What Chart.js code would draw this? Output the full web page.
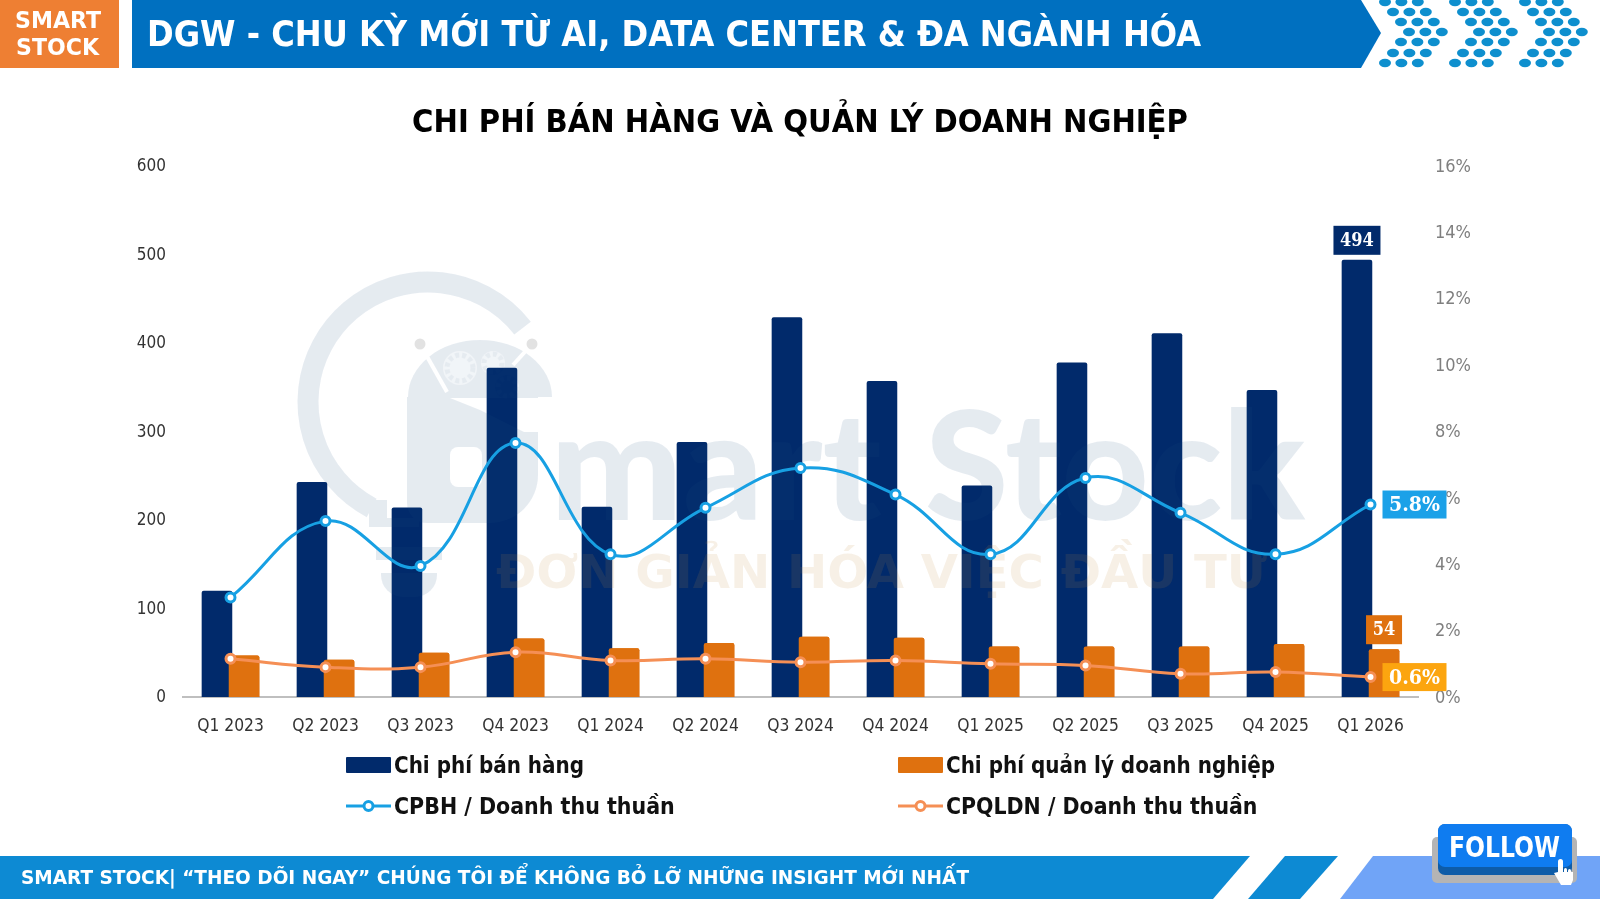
<!DOCTYPE html>
<html lang="vi">
<head>
<meta charset="utf-8">
<title>DGW - Chi phí bán hàng và quản lý doanh nghiệp</title>
<script src="https://cdn.jsdelivr.net/npm/chart.js@4/dist/chart.umd.min.js"></script>
<style>
    html, body { margin: 0; padding: 0; background: #ffffff; }
    canvas { display: block; }
</style>
</head>
<body>
<canvas id="chartCanvas" width="1600" height="899"></canvas>
<script>
// Quarterly data
const quarters = ["Q1 2023", "Q2 2023", "Q3 2023", "Q4 2023", "Q1 2024", "Q2 2024", "Q3 2024",
    "Q4 2024", "Q1 2025", "Q2 2025", "Q3 2025", "Q4 2025", "Q1 2026"];
const sellingCost = [120, 243, 214, 372, 215, 288, 429, 357, 239, 378, 411, 347, 494];
const adminCost = [47, 42, 50, 66, 55, 61, 68, 67, 57, 57, 57, 60, 54];
const sellingRatio = [3.0, 5.3, 3.95, 7.65, 4.3, 5.7, 6.9, 6.1, 4.3, 6.6, 5.55, 4.3, 5.8];
const adminRatio = [1.15, 0.9, 0.9, 1.35, 1.1, 1.15, 1.05, 1.1, 1.0, 0.95, 0.7, 0.75, 0.6];

const leftTicks = { max: 600, step: 100 };
const rightTicks = { max: 16, step: 2 };

// Slide texts
const brandLines = ["SMART", "STOCK"];
const bannerText = "DGW - CHU KỲ MỚI TỪ AI, DATA CENTER & ĐA NGÀNH HÓA";
const chartTitle = "CHI PHÍ BÁN HÀNG VÀ QUẢN LÝ DOANH NGHIỆP";
const footerText = "SMART STOCK| “THEO DÕI NGAY” CHÚNG TÔI ĐỂ KHÔNG BỎ LỠ NHỮNG INSIGHT MỚI NHẤT";
const followText = "FOLLOW";
const sloganText = "ĐƠN GIẢN HÓA VIỆC ĐẦU TƯ";

const NAVY = "#012A6B";
const ORANGE = "#DF710F";
const BLUE_LINE = "#17A0E3";
const ORANGE_LINE = "#F58F55";
const CONDENSED = '"DejaVu Sans Condensed", "DejaVu Sans", sans-serif';
const LABEL_SERIF = '"DejaVu Serif Condensed", "DejaVu Serif", serif';

/**
 * @brief Writes text squeezed or stretched to an exact width.
 */
function fitText(ctx, text, x, y, width, font, color) {
    ctx.save();
    ctx.font = font;
    ctx.fillStyle = color;
    ctx.textAlign = "left";
    ctx.textBaseline = "alphabetic";
    ctx.translate(x, y);
    ctx.scale(width / ctx.measureText(text).width, 1);
    ctx.fillText(text, 0, 0);
    ctx.restore();
}

function fillPolygon(ctx, points, color) {
    ctx.fillStyle = color;
    ctx.beginPath();
    points.forEach((p, i) => (i ? ctx.lineTo(p[0], p[1]) : ctx.moveTo(p[0], p[1])));
    ctx.closePath();
    ctx.fill();
}

function fillRound(ctx, x, y, w, h, r, color) {
    ctx.fillStyle = color;
    ctx.beginPath();
    ctx.roundRect(x, y, w, h, r);
    ctx.fill();
}

/**
 * @brief Header strip: brand tag, arrow banner and dotted chevrons.
 */
function drawHeader(ctx) {
    ctx.fillStyle = "#EE7F33";
    ctx.fillRect(0, 0, 119, 68);
    fitText(ctx, brandLines[0], 15, 28, 86, "bold 23px " + CONDENSED, "#ffffff");
    fitText(ctx, brandLines[1], 16, 55, 83, "bold 23px " + CONDENSED, "#ffffff");

    fillPolygon(ctx, [[132, 0], [1361, 0], [1381, 33], [1361, 68], [132, 68]], "#0070C0");
    fitText(ctx, bannerText, 147, 46, 1054, "bold 35px " + CONDENSED, "#ffffff");

    const rows = [2, 12, 22, 32, 42, 53, 63];
    const steps = [0, 1, 2, 3, 2, 1, 0];
    ctx.fillStyle = "#0E8FCE";
    for (let group = 0; group < 3; group++) {
        rows.forEach((rowY, r) => {
            for (let dot = 0; dot < 3; dot++) {
                const dotX = 1385 + group * 70 + steps[r] * 8 + dot * 16.4;
                ctx.beginPath();
                ctx.ellipse(dotX, rowY, 6, 4.2, 0, 0, Math.PI * 2);
                ctx.fill();
            }
        });
    }
}

/**
 * @brief Footer strip with slanted stripes and the follow button.
 */
function drawFooter(ctx) {
    const stripe = "#0D8AD3";
    fillPolygon(ctx, [[0, 856], [1250, 856], [1213, 899], [0, 899]], stripe);
    fillPolygon(ctx, [[1285, 856], [1338, 856], [1300, 899], [1248, 899]], stripe);
    fillPolygon(ctx, [[1373, 856], [1600, 856], [1600, 899], [1340, 899]], "#70A4F7");
    fitText(ctx, footerText, 21, 884, 948, "bold 20px " + CONDENSED, "#ffffff");

    fillRound(ctx, 1432, 837, 145, 46, 5, "#B4B4B4");
    fillRound(ctx, 1438, 824, 134, 51, 7, "#0E5CA8");
    fillRound(ctx, 1438, 824, 134, 43, 7, "#0F7CF0");
    fitText(ctx, followText, 1449, 857, 111, "bold 28px " + CONDENSED, "#ffffff");

    // Hand pointer
    fillRound(ctx, 1558, 859, 5, 18, 2.5, "#ffffff");
    fillRound(ctx, 1564, 868, 3, 10, 1.5, "#ffffff");
    fillRound(ctx, 1568, 869, 3, 10, 1.5, "#ffffff");
    fillPolygon(ctx, [[1554, 873], [1558, 872], [1573, 872], [1573, 880], [1571, 885], [1561, 885]], "#ffffff");
}

/**
 * @brief Faint company logo behind the plot; the offscreen layer keeps overlaps flat.
 */
function buildWatermark() {
    const layer = document.createElement("canvas");
    layer.width = 1600;
    layer.height = 899;
    const g = layer.getContext("2d");
    const ink = "rgb(30, 80, 130)";

    // Bulb outline
    g.strokeStyle = ink;
    g.lineWidth = 21;
    g.beginPath();
    g.arc(428, 402, 120, (118 * Math.PI) / 180, (-38 * Math.PI) / 180);
    g.stroke();
    g.fillStyle = ink;
    g.fillRect(369, 500, 18, 24);
    g.fillRect(369, 518, 50, 9);
    g.fillRect(376, 547, 66, 13);
    g.beginPath();
    g.roundRect(381, 573, 56, 24, [0, 0, 22, 22]);
    g.fill();

    // Heavy S: dome on top, bowl below
    g.beginPath();
    g.ellipse(480, 397, 72, 57, 0, Math.PI, 0);
    g.fill();
    g.beginPath();
    g.roundRect(407, 397, 131, 126, [0, 0, 48, 20]);
    g.fill();

    fitText(g, "mart", 550, 520, 332, "900 150px Lato", ink);
    fitText(g, "Stock", 925, 520, 380, "900 150px Lato", ink);

    // Openings of the S and the arms are knocked out of the shape
    g.globalCompositeOperation = "destination-out";
    fillPolygon(g, [[450, 398], [560, 398], [560, 432], [524, 432], [480, 410]], "#000");
    g.beginPath();
    g.roundRect(450, 447, 32, 40, 8);
    g.fill();
    g.lineWidth = 4;
    [[420, 344, 447, 392], [532, 344, 513, 365]].forEach(l => {
        g.beginPath();
        g.moveTo(l[0], l[1]);
        g.lineTo(l[2], l[3]);
        g.stroke();
    });
    // Gears only fade the shape a little
    g.globalAlpha = 0.45;
    [[460, 368, 17], [493, 363, 12], [507, 387, 12]].forEach(c => {
        g.beginPath();
        g.arc(c[0], c[1], c[2], 0, Math.PI * 2);
        g.fill();
    });
    g.globalAlpha = 1;
    g.globalCompositeOperation = "source-over";

    [[420, 344], [532, 344]].forEach(p => {
        g.beginPath();
        g.arc(p[0], p[1], 5.5, 0, Math.PI * 2);
        g.fill();
    });
    g.strokeStyle = ink;
    g.setLineDash([4, 3]);
    g.lineWidth = 5;
    [[460, 368, 13], [493, 363, 9], [507, 387, 9]].forEach(c => {
        g.beginPath();
        g.arc(c[0], c[1], c[2], 0, Math.PI * 2);
        g.stroke();
    });
    return layer;
}

const watermarkLayer = buildWatermark();

const slideArtwork = {
    id: "slideArtwork",
    beforeDraw(chart) {
        const ctx = chart.ctx;
        ctx.save();
        ctx.fillStyle = "#ffffff";
        ctx.fillRect(0, 0, chart.width, chart.height);
        drawHeader(ctx);
        drawFooter(ctx);
        ctx.restore();
    },
    afterDatasetDraw(chart, args) {
        // Admin cost bars overlap the selling cost bars, and the overlap sits on top
        if (args.index === 0) {
            chart.getDatasetMeta(1).controller.draw();
            // The logo tints the bars but stays under both ratio lines
            const ctx = chart.ctx;
            ctx.save();
            ctx.globalAlpha = 0.11;
            ctx.drawImage(watermarkLayer, 0, 0);
            ctx.globalAlpha = 1;
            fitText(ctx, sloganText, 496, 588, 771, "bold 46px " + CONDENSED, "rgba(190, 140, 60, 0.13)");
            ctx.restore();
        }
    },
    afterDatasetsDraw(chart) {
        drawLastValues(chart);
    },
    afterDraw(chart) {
        drawLegendBlock(chart);
    }
};

function valueBox(ctx, text, centerX, top, width, height, fill, fontSize) {
    ctx.fillStyle = fill;
    ctx.fillRect(centerX - width / 2, top, width, height);
    ctx.font = "bold " + fontSize + "px " + LABEL_SERIF;
    ctx.fillStyle = "#ffffff";
    ctx.textAlign = "center";
    ctx.textBaseline = "middle";
    ctx.fillText(text, centerX, top + height / 2 + 1);
}

/**
 * @brief Tags the latest quarter of every series with its value.
 */
function drawLastValues(chart) {
    const ctx = chart.ctx;
    const last = quarters.length - 1;
    const bar0 = chart.getDatasetMeta(0).data[last];
    const bar1 = chart.getDatasetMeta(1).data[last];
    const point2 = chart.getDatasetMeta(2).data[last];
    const point3 = chart.getDatasetMeta(3).data[last];
    ctx.save();
    valueBox(ctx, String(sellingCost[last]), bar0.x, bar0.y - 34, 47, 29, "#012A6B", 18);
    valueBox(ctx, String(adminCost[last]), bar1.x, bar1.y - 34, 36, 29, "#DF710F", 18);
    valueBox(ctx, sellingRatio[last].toFixed(1) + "%", point2.x + 44, point2.y - 14, 64, 28, "#1BA1E8", 21);
    valueBox(ctx, adminRatio[last].toFixed(1) + "%", point3.x + 44, point3.y - 14, 64, 28, "#FCA50F", 21);
    ctx.restore();
}

/**
 * @brief Two column legend built from the dataset labels and colours.
 */
function drawLegendBlock(chart) {
    const ctx = chart.ctx;
    const cells = [
        { index: 0, x: 346, y: 765, size: 22.2 },
        { index: 1, x: 898, y: 765, size: 22.2 },
        { index: 2, x: 346, y: 806, size: 22.9 },
        { index: 3, x: 898, y: 806, size: 22.8 }
    ];
    ctx.save();
    cells.forEach(cell => {
        const ds = chart.data.datasets[cell.index];
        if (ds.type === "bar") {
            fillRound(ctx, cell.x, cell.y - 8, 45, 16, 1, ds.backgroundColor);
        } else {
            ctx.strokeStyle = ds.borderColor;
            ctx.lineWidth = 3;
            ctx.beginPath();
            ctx.moveTo(cell.x, cell.y);
            ctx.lineTo(cell.x + 45, cell.y);
            ctx.stroke();
            ctx.fillStyle = "#ffffff";
            ctx.beginPath();
            ctx.arc(cell.x + 22.5, cell.y, 4.5, 0, Math.PI * 2);
            ctx.fill();
            ctx.stroke();
        }
        ctx.font = "bold " + cell.size + "px " + CONDENSED;
        ctx.fillStyle = "#111111";
        ctx.textAlign = "left";
        ctx.textBaseline = "middle";
        ctx.fillText(ds.label, cell.x + 48, cell.y + 2);
    });
    ctx.restore();
}

const ctx = document.getElementById("chartCanvas").getContext("2d");
const chart = new Chart(ctx, {
    data: {
        labels: quarters,
        datasets: [
            {
                type: "bar",
                label: "Chi phí bán hàng",
                data: sellingCost,
                yAxisID: "y",
                order: 3,
                backgroundColor: NAVY,
                borderRadius: 2,
                categoryPercentage: 0.57,
                barPercentage: 1.13
            },
            {
                type: "bar",
                label: "Chi phí quản lý doanh nghiệp",
                data: adminCost,
                yAxisID: "y",
                order: 4,
                backgroundColor: ORANGE,
                borderRadius: 2,
                categoryPercentage: 0.57,
                barPercentage: 1.13
            },
            {
                type: "line",
                label: "CPBH / Doanh thu thuần",
                data: sellingRatio,
                yAxisID: "y1",
                order: 1,
                borderColor: BLUE_LINE,
                borderWidth: 3,
                tension: 0.42,
                pointRadius: 4.5,
                pointBorderWidth: 3,
                pointBackgroundColor: "#ffffff",
                pointBorderColor: BLUE_LINE
            },
            {
                type: "line",
                label: "CPQLDN / Doanh thu thuần",
                data: adminRatio,
                yAxisID: "y1",
                order: 2,
                borderColor: ORANGE_LINE,
                borderWidth: 3,
                tension: 0.42,
                pointRadius: 4.5,
                pointBorderWidth: 3,
                pointBackgroundColor: "#ffffff",
                pointBorderColor: ORANGE_LINE
            }
        ]
    },
    options: {
        animation: false,
        responsive: false,
        layout: { padding: { left: 102, right: 102, top: 105, bottom: 162 } },
        plugins: {
            legend: { display: false },
            tooltip: { enabled: false },
            title: {
                display: true,
                text: chartTitle,
                color: "#000000",
                font: { family: CONDENSED, size: 32.4, weight: "bold", lineHeight: 1.125 },
                padding: { top: 0, bottom: 24.55 }
            }
        },
        scales: {
            x: {
                grid: { display: false },
                border: { color: "#BFBFBF", width: 2 },
                ticks: {
                    color: "#333333",
                    font: { family: CONDENSED, size: 17.3 },
                    padding: 11,
                    maxRotation: 0,
                    autoSkip: false
                },
                afterFit: scale => { scale.height = 40; }
            },
            y: {
                min: 0,
                max: leftTicks.max,
                position: "left",
                grid: { display: false, drawTicks: false },
                border: { display: false },
                ticks: {
                    stepSize: leftTicks.step,
                    color: "#333333",
                    font: { family: CONDENSED, size: 17 },
                    padding: 17,
                    labelOffset: 1
                },
                afterFit: scale => { scale.width = 81; }
            },
            y1: {
                min: 0,
                max: rightTicks.max,
                position: "right",
                grid: { display: false, drawTicks: false },
                border: { display: false },
                // Ticks are painted after the datasets, above the value tags
                z: 1,
                ticks: {
                    stepSize: rightTicks.step,
                    color: "#7F7F7F",
                    font: { family: CONDENSED, size: 18 },
                    padding: 17,
                    labelOffset: 1,
                    callback: value => value + "%"
                },
                afterFit: scale => { scale.width = 80; }
            }
        }
    },
    plugins: [slideArtwork]
});
</script>
</body>
</html>
